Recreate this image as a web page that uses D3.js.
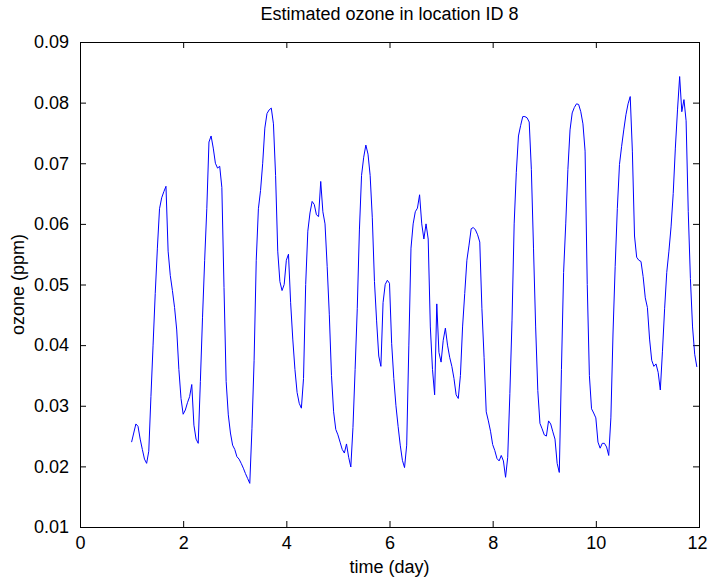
<!DOCTYPE html>
<html>
<head>
<meta charset="utf-8">
<script src="https://cdn.jsdelivr.net/npm/d3@7"></script>
<style>
  body { margin: 0; background: #fff; }
  text { font-family: "Liberation Sans", Arial, sans-serif; fill: #000; }
</style>
</head>
<body>
<div id="chart"></div>
<script>
// hourly ozone estimates (ppm), one array per day, starting at day 1
var day1  = [0.0240, 0.0255, 0.0270, 0.0266, 0.0245, 0.0228, 0.0212, 0.0205, 0.0225, 0.0315, 0.0400, 0.0485, 0.0560, 0.0625, 0.0643, 0.0653, 0.0662, 0.0555, 0.0515, 0.0490, 0.0462, 0.0425, 0.0360, 0.0312];
var day2  = [0.0286, 0.0293, 0.0305, 0.0315, 0.0335, 0.0268, 0.0245, 0.0238, 0.0340, 0.0445, 0.0540, 0.0625, 0.0735, 0.0745, 0.0725, 0.0700, 0.0692, 0.0695, 0.0660, 0.0495, 0.0340, 0.0285, 0.0255, 0.0235];
var day3  = [0.0228, 0.0216, 0.0212, 0.0205, 0.0197, 0.0188, 0.0180, 0.0172, 0.0262, 0.0375, 0.0540, 0.0625, 0.0655, 0.0700, 0.0758, 0.0782, 0.0788, 0.0791, 0.0765, 0.0680, 0.0555, 0.0505, 0.0490, 0.0500];
var day4  = [0.0540, 0.0550, 0.0470, 0.0410, 0.0360, 0.0322, 0.0304, 0.0296, 0.0345, 0.0500, 0.0588, 0.0618, 0.0637, 0.0632, 0.0615, 0.0612, 0.0670, 0.0620, 0.0600, 0.0530, 0.0450, 0.0350, 0.0290, 0.0261];
var day5  = [0.0252, 0.0240, 0.0228, 0.0222, 0.0237, 0.0215, 0.0199, 0.0264, 0.0360, 0.0460, 0.0590, 0.0680, 0.0710, 0.0730, 0.0715, 0.0680, 0.0610, 0.0505, 0.0440, 0.0382, 0.0365, 0.0470, 0.0500, 0.0507];
var day6  = [0.0502, 0.0403, 0.0345, 0.0300, 0.0266, 0.0235, 0.0210, 0.0198, 0.0235, 0.0400, 0.0560, 0.0600, 0.0620, 0.0626, 0.0648, 0.0600, 0.0575, 0.0600, 0.0575, 0.0430, 0.0360, 0.0318, 0.0468, 0.0388];
var day7  = [0.0372, 0.0408, 0.0428, 0.0400, 0.0380, 0.0365, 0.0345, 0.0318, 0.0312, 0.0350, 0.0430, 0.0485, 0.0540, 0.0565, 0.0592, 0.0594, 0.0590, 0.0582, 0.0570, 0.0460, 0.0380, 0.0290, 0.0275, 0.0258];
var day8  = [0.0236, 0.0226, 0.0213, 0.0209, 0.0218, 0.0209, 0.0182, 0.0215, 0.0320, 0.0440, 0.0600, 0.0685, 0.0745, 0.0762, 0.0777, 0.0777, 0.0775, 0.0768, 0.0690, 0.0560, 0.0430, 0.0325, 0.0271, 0.0262];
var day9  = [0.0252, 0.0250, 0.0275, 0.0270, 0.0257, 0.0245, 0.0205, 0.0190, 0.0360, 0.0520, 0.0600, 0.0690, 0.0755, 0.0783, 0.0792, 0.0798, 0.0797, 0.0785, 0.0765, 0.0720, 0.0500, 0.0350, 0.0295, 0.0288];
var day10 = [0.0280, 0.0240, 0.0230, 0.0238, 0.0238, 0.0232, 0.0218, 0.0280, 0.0420, 0.0530, 0.0625, 0.0698, 0.0728, 0.0755, 0.0780, 0.0798, 0.0810, 0.0720, 0.0580, 0.0545, 0.0540, 0.0538, 0.0513, 0.0478];
var day11 = [0.0462, 0.0410, 0.0375, 0.0365, 0.0369, 0.0355, 0.0326, 0.0390, 0.0460, 0.0520, 0.0555, 0.0595, 0.0650, 0.0725, 0.0788, 0.0843, 0.0785, 0.0805, 0.0770, 0.0620, 0.0510, 0.0430, 0.0385, 0.0364];

var days = [day1, day2, day3, day4, day5, day6, day7, day8, day9, day10, day11];

var xTicks = [0, 2, 4, 6, 8, 10, 12];
var yTicks = [0.01, 0.02, 0.03, 0.04, 0.05, 0.06, 0.07, 0.08, 0.09];

var titleText = "Estimated ozone in location ID 8";
var xLabel = "time (day)";
var yLabel = "ozone (ppm)";

// build the (time, value) series
var data = [];
days.forEach(function(vals, i) {
  vals.forEach(function(v, h) {
    data.push({t: (i + 1) + h / 24, v: v});
  });
});

var W = 708, H = 578;
var margin = {top: 42, right: 9, bottom: 51, left: 80},
  width = W - margin.left - margin.right,
  height = H - margin.top - margin.bottom;

var svg = d3.select("#chart")
  .append("svg")
    .attr("width", W)
    .attr("height", H);

var g = svg.append("g")
  .attr("transform", "translate(" + margin.left + "," + margin.top + ")");

var x = d3.scaleLinear().domain([0, 12]).range([0, width]);
var y = d3.scaleLinear().domain([0.01, 0.09]).range([height, 0]);

var fontSize = 18;
var tickLen = 6;

// bottom & left axes, ticks inside
var xAxisG = g.append("g")
  .attr("transform", "translate(0," + height + ")")
  .call(d3.axisBottom(x).tickValues(xTicks).tickSize(-tickLen).tickPadding(tickLen + 3).tickFormat(d3.format("d")))
  .call(function(a) { a.select(".domain").remove(); });
xAxisG.selectAll("text").style("font-size", fontSize + "px");
// keep the last label inside the window
xAxisG.selectAll("text").filter(function(d) { return d === 12; }).attr("dx", "-2");

g.append("g")
  .call(d3.axisLeft(y).tickValues(yTicks).tickSize(-tickLen).tickPadding(tickLen + 5).tickFormat(d3.format(".2f")))
  .call(function(a) { a.select(".domain").remove(); })
  .selectAll("text").style("font-size", fontSize + "px");

// top & right tick marks
g.append("g")
  .call(d3.axisTop(x).tickValues(xTicks).tickSize(-tickLen).tickFormat(""))
  .call(function(a) { a.select(".domain").remove(); });

g.append("g")
  .attr("transform", "translate(" + width + ",0)")
  .call(d3.axisRight(y).tickValues(yTicks).tickSize(-tickLen).tickFormat(""))
  .call(function(a) { a.select(".domain").remove(); });

g.selectAll(".tick line").attr("stroke", "#000");

// box
g.append("rect")
  .attr("x", 0.5).attr("y", 0.5)
  .attr("width", width).attr("height", height)
  .attr("fill", "none")
  .attr("stroke", "#000")
  .attr("stroke-width", 1);

// the series
var line = d3.line()
  .x(function(d) { return x(d.t); })
  .y(function(d) { return y(d.v); });

g.append("path")
  .datum(data)
  .attr("fill", "none")
  .attr("stroke", "#0000ff")
  .attr("stroke-width", 1)
  .attr("d", line);

// labels
svg.append("text")
  .attr("x", margin.left + width / 2)
  .attr("y", 20)
  .attr("text-anchor", "middle")
  .style("font-size", fontSize + "px")
  .text(titleText);

svg.append("text")
  .attr("x", margin.left + width / 2)
  .attr("y", 573)
  .attr("text-anchor", "middle")
  .style("font-size", fontSize + "px")
  .text(xLabel);

svg.append("text")
  .attr("transform", "translate(24," + (margin.top + height / 2) + ") rotate(-90)")
  .attr("text-anchor", "middle")
  .style("font-size", fontSize + "px")
  .text(yLabel);
</script>
</body>
</html>
